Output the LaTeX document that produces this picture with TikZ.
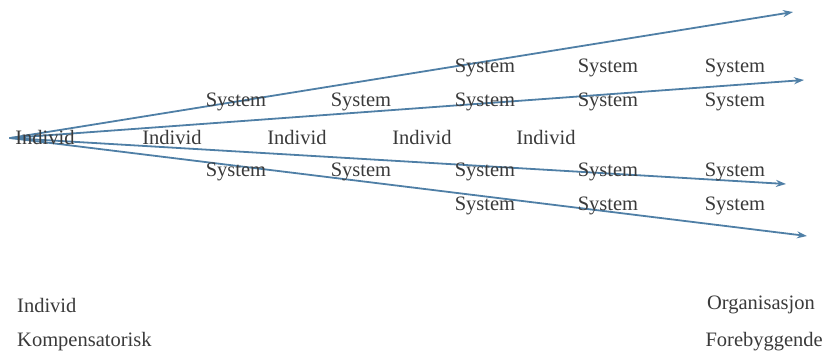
\documentclass[tikz,border=0pt]{standalone}
\usepackage{fontspec}
\setmainfont{Liberation Serif}
\usetikzlibrary{arrows.meta}
\definecolor{arrowblue}{HTML}{4F7FA6}
\definecolor{textgray}{HTML}{3A3A3A}
\tikzset{
  label/.style={text=textgray,font=\fontsize{20.5}{24}\selectfont,inner sep=0pt},
  ray/.style={arrowblue,line width=1.8pt,-{Stealth[length=10pt,width=7pt]}}
}
\begin{document}
\begin{tikzpicture}[x=1pt,y=-1pt,line cap=round,line join=round]
    \useasboundingbox (0,0) rectangle (827,360);
    % rays from the individual out to the organisation
    \coordinate (origin) at (10,138);
    \coordinate (end1) at (793,12);
    \coordinate (end2) at (804,80);
    \coordinate (end3) at (786,184);
    \coordinate (end4) at (807,236);
    \foreach \e in {end1,end2,end3,end4}
      \draw[ray] (origin) -- (\e);
    % labels along the rays
    \node[label] (ind0) at (45,137) {Individ};
    \foreach \x [count=\i] in {172,297,422,546}
      \node[label] (ind\i) at (\x,137) {Individ};
    \foreach \x [count=\i] in {485,608,735}
      \node[label] (sysa\i) at (\x,68) {System};
    \foreach \x [count=\i] in {236,361,485,608,735}
      \node[label] (sysb\i) at (\x,102) {System};
    \foreach \x [count=\i] in {236,361,485,608,735}
      \node[label] (sysc\i) at (\x,172) {System};
    \foreach \x [count=\i] in {485,608,735}
      \node[label] (sysd\i) at (\x,206) {System};
    % the two ends of the scale
    \node[label,anchor=west] (left1) at (17,305) {Individ};
    \node[label,anchor=west] (left2) at (17,342) {Kompensatorisk};
    \node[label,anchor=east] (right1) at (815,305) {Organisasjon};
    \node[label,anchor=east] (right2) at (823,342) {Forebyggende};
  \end{tikzpicture}
\end{document}
